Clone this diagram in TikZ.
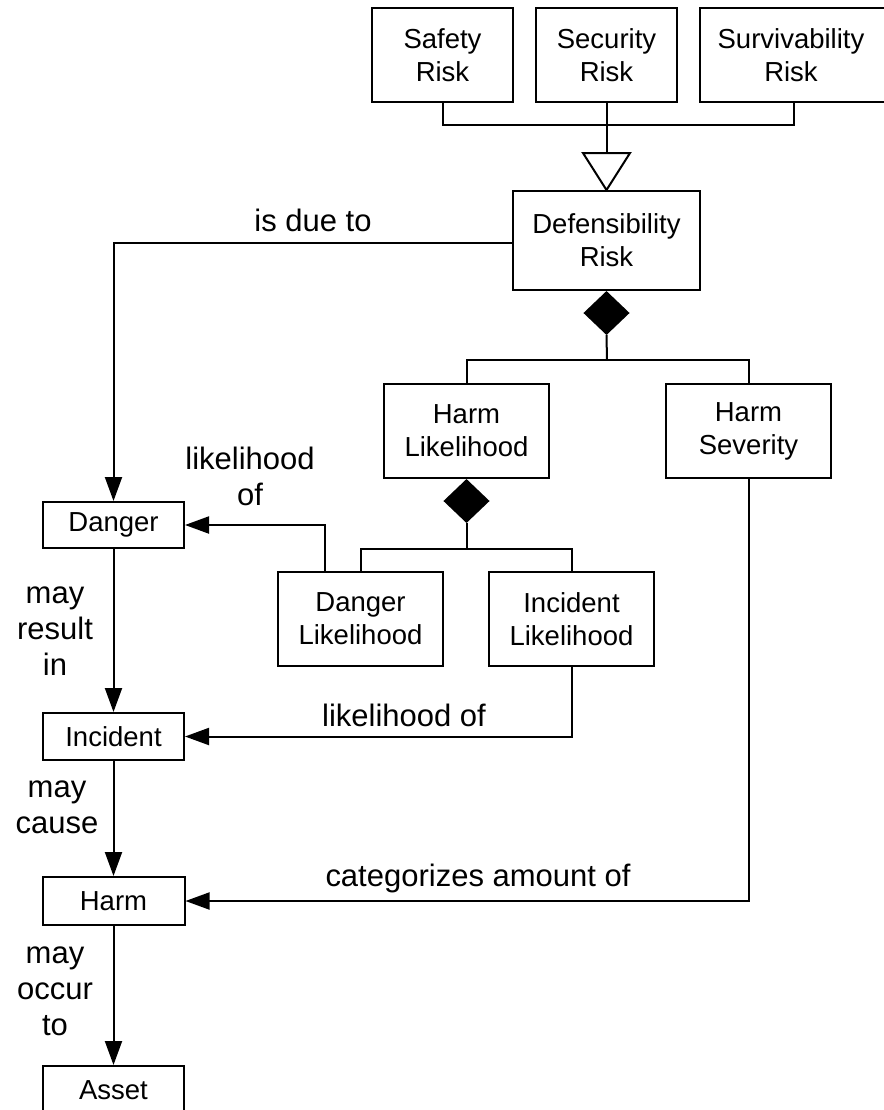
\documentclass[tikz,border=0pt]{standalone}
\usepackage{fontspec}
\setmainfont{Liberation Sans}
\usetikzlibrary{arrows.meta,shapes.geometric}
\tikzset{
  box/.style={draw, line width=1pt, inner sep=0pt, align=center,
    font=\fontsize{13.75}{16.5}\selectfont},
  lbl/.style={inner sep=0pt, align=center, font=\fontsize{15.5}{18}\selectfont},
  conn/.style={line width=1pt},
  arr/.style={conn, -{Triangle[length=12pt,width=8.5pt]}},
  agg/.style={diamond, draw, fill=black, line width=1pt, inner sep=0pt,
    minimum width=22pt, minimum height=21pt, anchor=north},
}
\begin{document}
\begin{tikzpicture}[x=0.5pt, y=-0.5pt]
\clip (0,0) rectangle (884,1110);
\fill[white] (0,0) rectangle (884,1110);

% risk kinds
\node[box, minimum width=70.5pt, minimum height=47pt] (safety) at (442.5,55) {Safety\\Risk};
\node[box, minimum width=70.5pt, minimum height=47pt] (security) at (606.5,55) {Security\\Risk};
\node[box, minimum width=96pt, minimum height=47pt] (surv) at (796,55) {Survivability\hspace*{5pt}\\Risk\hspace*{5pt}};

\node[box, minimum width=93.5pt, minimum height=49.5pt] (defens) at (606.5,240.5) {Defensibility\\Risk};

\node[box, minimum width=82.5pt, minimum height=47pt] (harmlik) at (466.5,431) {Harm\\Likelihood};
\node[box, minimum width=82.5pt, minimum height=47pt] (harmsev) at (748.5,431) {Harm\\Severity};

\node[box, minimum width=82.5pt, minimum height=47pt] (dangerlik) at (360.5,619) {Danger\\Likelihood};
\node[box, minimum width=82.5pt, minimum height=47pt] (incidentlik) at (571.5,619) {Incident\\Likelihood};

% chain on the left
\node[box, minimum width=70.5pt, minimum height=23pt] (danger) at (113.5,525) {Danger};
\node[box, minimum width=70.5pt, minimum height=23.5pt] (incident) at (113.5,736.5) {Incident};
\node[box, minimum width=71pt, minimum height=24pt] (harm) at (113.5,901) {Harm};
\node[box, minimum width=70.5pt, minimum height=24pt] (asset) at (113.5,1090) {Asset};

% generalization
\coordinate (j1) at (606.5,125);
\draw[conn] (safety.south) |- (j1) -| ([xshift=-1pt]surv.south);
\draw[conn] (security.south) -- ([yshift=18.5pt]defens.north);
\draw[conn, fill=white] (defens.north) -- ++(-23.5,-37) -- ++(47,0) -- cycle;

% aggregation of defensibility risk
\node[agg] (dg1) at (defens.south) {};
\coordinate (j2) at (607,360);
\draw[conn] (dg1.south) -- (j2);
\draw[conn] (harmlik.north) |- (j2) -| (harmsev.north);

% aggregation of harm likelihood
\node[agg] (dg2) at (harmlik.south) {};
\coordinate (j3) at (466.5,549);
\draw[conn] (dg2.south) -- (j3);
\draw[conn] (dangerlik.north) |- (j3) -| (incidentlik.north);

% associations
\draw[arr] ([yshift=-1.25pt]defens.west) -| (danger.north);
\draw[arr] ([xshift=-17.75pt]dangerlik.north) |- (danger.east);
\draw[arr] (incidentlik.south) |- (incident.east);
\draw[arr] (harmsev.south) |- (harm.east);
\draw[arr] (danger.south) -- (incident.north);
\draw[arr] (incident.south) -- (harm.north);
\draw[arr] (harm.south) -- (asset.north);

% labels
\node[lbl] (l1) at (313,220) {is due to};
\node[lbl] (l2) at (250,476) {likelihood\\of};
\node[lbl] (l3) at (404,715) {likelihood of};
\node[lbl] (l4) at (478,878) {categorizes amount of};
\node[lbl] (l5) at (55,631) {may\\result\\in};
\node[lbl] (l6) at (57,807) {may\\cause};
\node[lbl] (l7) at (55,991) {may\\occur\\to};
\end{tikzpicture}
\end{document}
